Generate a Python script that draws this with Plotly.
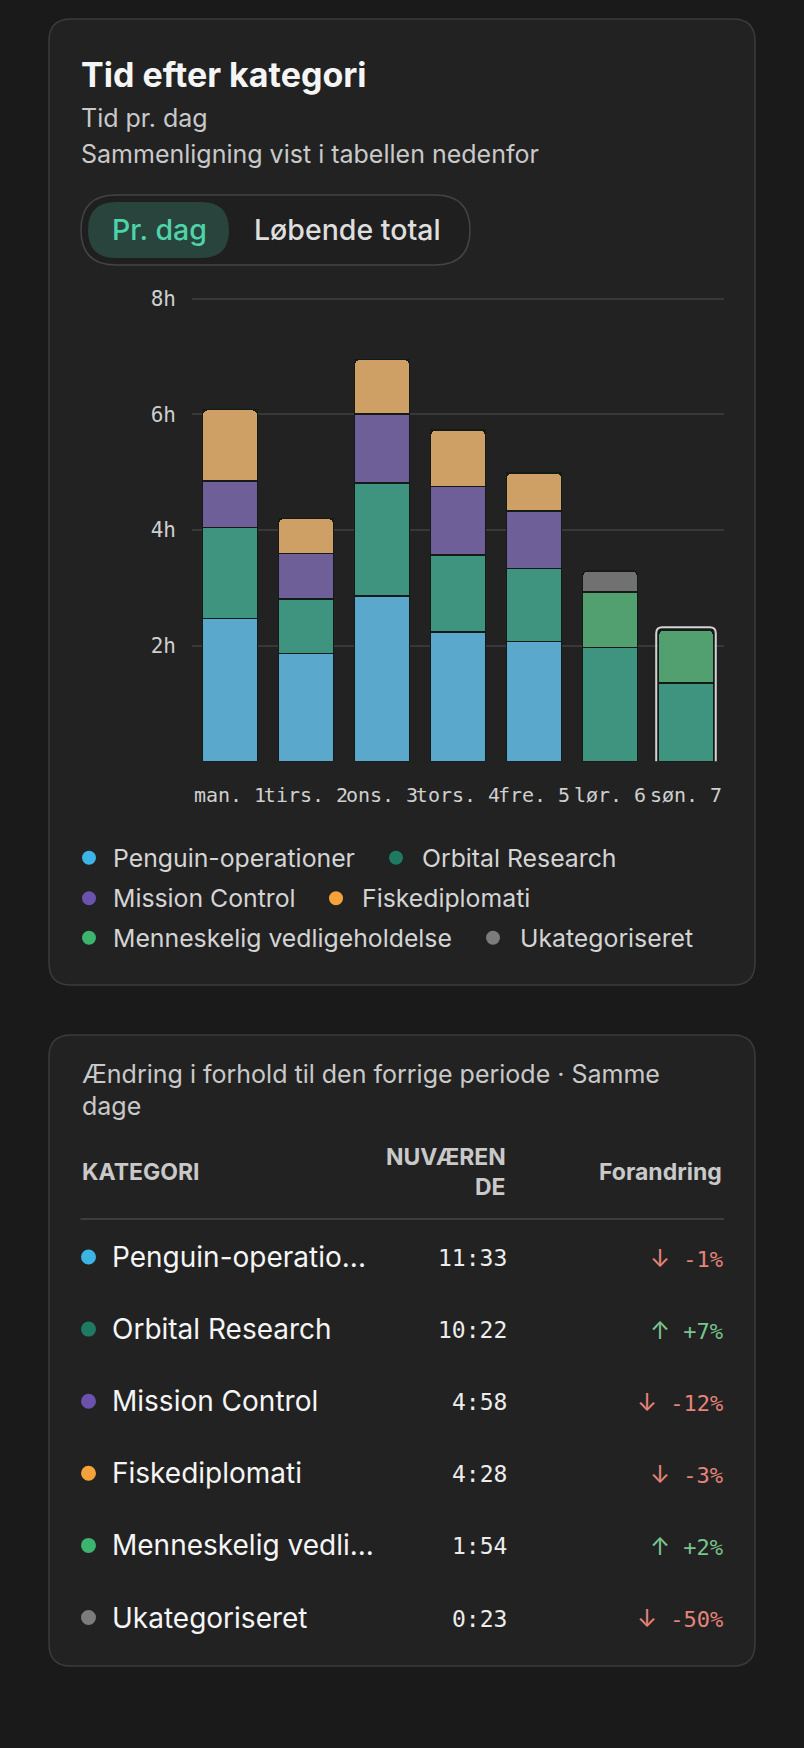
import plotly.graph_objects as go

W, H = 804, 1748

# ---------------- data ----------------
days = ["man. 1", "tirs. 2", "ons. 3", "tors. 4", "fre. 5", "lør. 6", "søn. 7"]
categories = ["Penguin-operationer", "Orbital Research", "Mission Control",
              "Fiskediplomati", "Menneskelig vedligeholdelse", "Ukategoriseret"]
penguin = [2.47, 1.86, 2.86, 2.24, 2.07, 0, 0]
orbital = [1.57, 0.95, 1.95, 1.33, 1.26, 1.97, 1.35]
mission = [0.81, 0.78, 1.20, 1.18, 1.00, 0, 0]
fiske = [1.23, 0.61, 0.94, 0.98, 0.66, 0, 0]
menneske = [0, 0, 0, 0, 0, 0.96, 0.92]
ukat = [0, 0, 0, 0, 0, 0.36, 0]
y_ticks = [2, 4, 6, 8]
y_ticktext = ["2h", "4h", "6h", "8h"]
selected_day = 6

table_labels = ["Penguin-operatio...", "Orbital Research", "Mission Control",
                "Fiskediplomati", "Menneskelig vedli...", "Ukategoriseret"]
table_current = ["11:33", "10:22", "4:58", "4:28", "1:54", "0:23"]
table_change = [-1, 7, -12, -3, 2, -50]

# ---------------- styles ----------------
bar_colors = ["#5aa9cc", "#3f9480", "#6f5f99", "#cfa066", "#52a070", "#717171"]
dot_colors = ["#3cb4e6", "#1f7a64", "#6a52ad", "#f6a23a", "#3cb46e", "#7c7c7c"]
BG = "#1a1a1a"
CARD = "#222222"
CARD_BORDER = "#3b3b3b"
SANS = "Inter"
MONO = "DejaVu Sans Mono"
BARGAP = 0.276
Y_TOP = 8.03
PLOT_X0, PLOT_X1 = 192, 724
BASE_Y, Y8 = 761.3, 298.7
PX_PER_H = (BASE_Y - Y8) / 8


def px(x):
    return x / W


def py(y):
    return 1 - y / H


def rrect(x0, y0, x1, y1, r):
    pts = [
        ("M", [(x0 + r, y0)]),
        ("L", [(x1 - r, y0)]),
        ("Q", [(x1, y0), (x1, y0 + r)]),
        ("L", [(x1, y1 - r)]),
        ("Q", [(x1, y1), (x1 - r, y1)]),
        ("L", [(x0 + r, y1)]),
        ("Q", [(x0, y1), (x0, y1 - r)]),
        ("L", [(x0, y0 + r)]),
        ("Q", [(x0, y0), (x0 + r, y0)]),
    ]
    s = ""
    for cmd, ps in pts:
        s += cmd + " " + " ".join(f"{px(a):.6f},{py(b):.6f}" for a, b in ps) + " "
    return s + "Z"


fig = go.Figure()

series = [penguin, orbital, mission, fiske, menneske, ukat]
xs = list(range(len(days)))
for name, vals, col in zip(categories, series, bar_colors):
    fig.add_trace(go.Bar(
        x=xs, y=vals, name=name, marker=dict(color=col, line=dict(color="#141a18", width=1.5)),
        showlegend=False, hoverinfo="skip"))

shapes = []
annotations = []

# cards
shapes.append(dict(type="path", xref="paper", yref="paper", path=rrect(49, 19, 755, 985, 22),
                   fillcolor=CARD, line=dict(color=CARD_BORDER, width=1.5), layer="below"))
shapes.append(dict(type="path", xref="paper", yref="paper", path=rrect(49, 1035, 755, 1666, 22),
                   fillcolor=CARD, line=dict(color=CARD_BORDER, width=1.5), layer="below"))

# toggle
shapes.append(dict(type="path", xref="paper", yref="paper", path=rrect(81, 195, 470, 265, 35),
                   fillcolor="#1f1f1f", line=dict(color="#444444", width=1.5), layer="below"))
shapes.append(dict(type="path", xref="paper", yref="paper", path=rrect(88, 202, 229, 258, 28),
                   fillcolor="#28443d", line=dict(width=0), layer="below"))


def text(x, y, s, size, color, family=SANS, xanchor="left", bold=False, weight=None):
    if bold:
        s = f"<b>{s}</b>"
    font = dict(family=family, size=size, color=color)
    if weight:
        font["weight"] = weight
    annotations.append(dict(x=px(x), y=py(y), xref="paper", yref="paper", text=s, showarrow=False,
                            xanchor=xanchor, yanchor="middle", font=font))


text(79, 75, "Tid efter kategori", 34, "#f5f5f5", bold=True)
text(79, 118, "Tid pr. dag", 25, "#c9c9c9")
text(79, 154, "Sammenligning vist i tabellen nedenfor", 25, "#c9c9c9")
text(159, 230, "Pr. dag", 28.5, "#4fd3a9", xanchor="center", weight=500)
text(347, 230, "Løbende total", 28.5, "#dedede", xanchor="center", weight=500)

# selected day outline (rounded top), derived from the data
sel_total = sum(s[selected_day] for s in series)
hw = (1 - BARGAP) / 2 + 0.03
rx, ry = 6 / 76, 6 / PX_PER_H
x0, x1 = selected_day - hw, selected_day + hw
y0, y1 = -0.04, sel_total + 0.05
outline = (f"M {x0},{y0} L {x0},{y1 - ry} Q {x0},{y1} {x0 + rx},{y1} "
           f"L {x1 - rx},{y1} Q {x1},{y1} {x1},{y1 - ry} L {x1},{y0} Z")
shapes.append(dict(type="path", xref="x", yref="y", path=outline,
                   line=dict(color="#d2d2d2", width=2), fillcolor="rgba(0,0,0,0)", layer="above"))

# legend
legend_rows = [(857.7, [(0, 89, 111), (1, 396, 420)]),
               (898.3, [(2, 89, 111), (3, 336, 360)]),
               (937.7, [(4, 89, 111), (5, 493, 518)])]
for yrow, items in legend_rows:
    for idx, xd, xt in items:
        shapes.append(dict(type="circle", xref="paper", yref="paper",
                           x0=px(xd - 7), x1=px(xd + 7), y0=py(yrow + 7), y1=py(yrow - 7),
                           fillcolor=dot_colors[idx], line=dict(width=0)))
        text(xt, yrow, categories[idx], 24.8, "#d4d4d4")

# table
text(80, 1074, "Ændring i forhold til den forrige periode · Samme", 25, "#c9c9c9")
text(80, 1106, "dage", 25, "#c9c9c9")
text(80, 1172, "KATEGORI", 23, "#c9c9c9", bold=True)
text(508, 1157, "NUVÆREN", 23, "#c9c9c9", xanchor="right", bold=True)
text(508, 1187, "DE", 23, "#c9c9c9", xanchor="right", bold=True)
text(724, 1172, "Forandring", 23, "#c9c9c9", xanchor="right", bold=True)
shapes.append(dict(type="line", xref="paper", yref="paper", x0=px(80.5), x1=px(724), y0=py(1219), y1=py(1219),
                   line=dict(color="#474747", width=1.5)))

for i, (lab, cur, chg) in enumerate(zip(table_labels, table_current, table_change)):
    yr = 1257 + i * 72.1
    shapes.append(dict(type="circle", xref="paper", yref="paper",
                       x0=px(88.5 - 7.5), x1=px(88.5 + 7.5), y0=py(yr + 7.5), y1=py(yr - 7.5),
                       fillcolor=dot_colors[i], line=dict(width=0)))
    text(110, yr, lab, 28, "#f5f5f5")
    text(509, yr + 1, cur, 23, "#ececec", family=MONO, xanchor="right")
    if chg < 0:
        arrow, s, col = "↓", f"{chg}%", "#e7847a"
    else:
        arrow, s, col = "↑", f"+{chg}%", "#78c58c"
    text(725, yr + 1, f"<span style='font-family:Inter;font-size:24px'>{arrow}</span> {s}", 22, col,
         family=MONO, xanchor="right")

fig.update_layout(
    width=W, height=H,
    margin=dict(l=0, r=0, t=0, b=0, autoexpand=False),
    paper_bgcolor=BG, plot_bgcolor="rgba(0,0,0,0)",
    barmode="stack", bargap=BARGAP, barcornerradius=5,
    shapes=shapes, annotations=annotations,
    xaxis=dict(domain=[px(PLOT_X0), px(PLOT_X1)], range=[-0.5, 6.5], tickvals=xs, ticktext=days,
               showgrid=False, zeroline=False, showline=False, ticks="", tickangle=0, automargin=False,
               tickfont=dict(family=MONO, size=20, color="#cfcfcf"), ticklabelstandoff=20,
               fixedrange=True),
    yaxis=dict(domain=[py(BASE_Y), py(BASE_Y - Y_TOP * PX_PER_H)], range=[0, Y_TOP],
               tickvals=y_ticks, ticktext=y_ticktext, automargin=False,
               showgrid=True, gridcolor="#383838", gridwidth=1.5, zeroline=False, showline=False, ticks="",
               tickfont=dict(family=MONO, size=21, color="#cfcfcf"), ticklabelstandoff=15,
               fixedrange=True),
)

fig.write_html("out.html", config={"displayModeBar": False},
               post_script="document.body.style.margin='0';document.body.style.background='#1a1a1a';")
